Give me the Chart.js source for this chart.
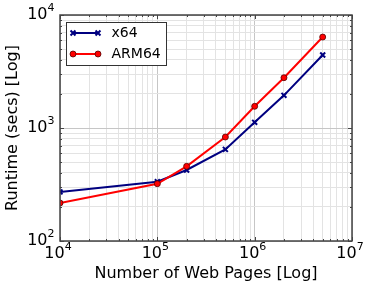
<!DOCTYPE html>
<html>
<head>
<meta charset="utf-8">
<script src="https://cdn.jsdelivr.net/npm/chart.js@4.4.1/dist/chart.umd.min.js"></script>
<style>
  html, body { margin: 0; padding: 0; background: #fff; }
  canvas { display: block; }
</style>
</head>
<body>
<canvas id="runtime-chart" width="374" height="288"></canvas>
<script>
// Data
const pages = [1e4, 1e5, 2e5, 5e5, 1e6, 2e6, 5e6];
const x64Runtime = [272, 335, 425, 647, 1122, 1945, 4426];
const arm64Runtime = [217, 321, 458, 832, 1556, 2786, 6380];
const seriesNames = ["x64", "ARM64"];
const xDecades = [4, 5, 6, 7];
const yDecades = [2, 3, 4];

const FONT = "'DejaVu Sans', sans-serif";
const FRAME = "#444";

// ticks at 1..9 x 10^e, like matplotlib minor ticks
function logTicks(decades) {
    const out = [];
    for (let i = 0; i < decades.length - 1; i++) {
        for (let d = 1; d < 10; d++) out.push(d * Math.pow(10, decades[i]));
    }
    out.push(Math.pow(10, decades[decades.length - 1]));
    return out;
}
const isDecade = (v) => Math.abs(Math.log10(v) - Math.round(Math.log10(v))) < 1e-9;

// draws "10" with a raised exponent
function drawPow(ctx, exp, left, midY) {
    ctx.font = "16px " + FONT;
    ctx.textBaseline = "middle";
    ctx.textAlign = "left";
    ctx.fillText("10", left, midY);
    const wb = ctx.measureText("10").width;
    ctx.font = "11px " + FONT;
    ctx.fillText(String(exp), left + wb, midY - 7);
}
function powWidth(ctx, exp) {
    ctx.font = "16px " + FONT;
    const wb = ctx.measureText("10").width;
    ctx.font = "11px " + FONT;
    return wb + ctx.measureText(String(exp)).width;
}

const framePlugin = {
    id: "frame",
    afterDraw(chart) {
        const { ctx, chartArea: a, scales: { x, y } } = chart;
        ctx.save();
        // inward tick marks on all four sides
        ctx.strokeStyle = FRAME;
        ctx.lineWidth = 1;
        x.ticks.forEach((t) => {
            const px = Math.round(x.getPixelForValue(t.value)) + 0.5;
            const len = isDecade(t.value) ? 4 : 2;
            ctx.beginPath();
            ctx.moveTo(px, a.bottom); ctx.lineTo(px, a.bottom - len);
            ctx.moveTo(px, a.top); ctx.lineTo(px, a.top + len);
            ctx.stroke();
        });
        y.ticks.forEach((t) => {
            const py = Math.round(y.getPixelForValue(t.value)) + 0.5;
            const len = isDecade(t.value) ? 4 : 2;
            ctx.beginPath();
            ctx.moveTo(a.left, py); ctx.lineTo(a.left + len, py);
            ctx.moveTo(a.right, py); ctx.lineTo(a.right - len, py);
            ctx.stroke();
        });
        ctx.lineWidth = 1.5;
        ctx.strokeRect(a.left, a.top, a.right - a.left, a.bottom - a.top);

        // tick labels
        ctx.fillStyle = "#000";
        xDecades.forEach((e) => {
            const px = x.getPixelForValue(Math.pow(10, e));
            const w = powWidth(ctx, e);
            drawPow(ctx, e, px - w / 2 - 2, a.bottom + 13);
        });
        yDecades.forEach((e) => {
            const py = y.getPixelForValue(Math.pow(10, e));
            const w = powWidth(ctx, e);
            drawPow(ctx, e, a.left - 5.5 - w, py);
        });

        // legend box in the upper left
        const bx = 66, by = 22, bw = 100, bh = 43;
        ctx.fillStyle = "#fff";
        ctx.fillRect(bx, by, bw, bh);
        ctx.strokeStyle = "#333";
        ctx.lineWidth = 1;
        ctx.strokeRect(bx + 0.5, by + 0.5, bw, bh);
        chart.data.datasets.forEach((ds, i) => {
            const ly = by + 11 + i * 21;
            const x0 = bx + 7, x1 = bx + 32;
            ctx.strokeStyle = ds.borderColor;
            ctx.lineWidth = 2;
            ctx.beginPath();
            ctx.moveTo(x0, ly); ctx.lineTo(x1, ly);
            ctx.stroke();
            [x0, x1].forEach((mx) => {
                ctx.fillStyle = ds.pointBackgroundColor;
                ctx.strokeStyle = ds.pointBorderColor;
                ctx.lineWidth = ds.pointBorderWidth;
                ctx.beginPath();
                if (ds.pointStyle === "circle") {
                    ctx.arc(mx, ly, ds.pointRadius, 0, Math.PI * 2);
                    ctx.fill(); ctx.stroke();
                } else {
                    const r = ds.pointRadius * Math.SQRT1_2;
                    ctx.moveTo(mx - r, ly - r); ctx.lineTo(mx + r, ly + r);
                    ctx.moveTo(mx - r, ly + r); ctx.lineTo(mx + r, ly - r);
                    ctx.stroke();
                }
            });
            ctx.fillStyle = "#000";
            ctx.font = "14px " + FONT;
            ctx.textAlign = "left";
            ctx.textBaseline = "middle";
            ctx.fillText(ds.label, bx + 45.5, ly);
        });
        ctx.restore();
    }
};

const gridColor = (c) => (c.tick && isDecade(c.tick.value) ? "#c6c6c6" : "#e3e3e3");

new Chart(document.getElementById("runtime-chart"), {
    type: "line",
    data: {
        datasets: [
            {
                label: seriesNames[0],
                data: pages.map((p, i) => ({ x: p, y: x64Runtime[i] })),
                borderColor: "#000080",
                borderWidth: 2,
                pointStyle: "crossRot",
                pointRadius: 3.5,
                pointBorderWidth: 2,
                pointBackgroundColor: "#000080",
                pointBorderColor: "#000080",
                order: 1
            },
            {
                label: seriesNames[1],
                data: pages.map((p, i) => ({ x: p, y: arm64Runtime[i] })),
                borderColor: "#ff0000",
                borderWidth: 2,
                pointStyle: "circle",
                pointRadius: 3,
                pointBorderWidth: 0.8,
                pointBackgroundColor: "#ff0000",
                pointBorderColor: "#550000",
                order: 0
            }
        ]
    },
    options: {
        responsive: false,
        animation: false,
        devicePixelRatio: 1,
        layout: { padding: { top: 15, right: 22, left: 0, bottom: 0 } },
        plugins: { legend: { display: false }, tooltip: { enabled: false } },
        elements: { line: { tension: 0 } },
        scales: {
            x: {
                type: "logarithmic",
                min: 1e4,
                max: 1e7,
                afterBuildTicks: (s) => { s.ticks = logTicks(xDecades).map((v) => ({ value: v })); },
                afterFit: (s) => { s.height = 47; },
                ticks: { display: false },
                grid: { color: gridColor, lineWidth: 1, drawTicks: false },
                border: { display: false },
                title: {
                    display: true,
                    text: "Number of Web Pages [Log]",
                    color: "#000",
                    font: { family: FONT, size: 16 },
                    padding: { top: 0, bottom: 5 }
                }
            },
            y: {
                type: "logarithmic",
                min: 100,
                max: 10000,
                afterBuildTicks: (s) => { s.ticks = logTicks(yDecades).map((v) => ({ value: v })); },
                afterFit: (s) => { s.width = 60; },
                ticks: { display: false },
                grid: { color: gridColor, lineWidth: 1, drawTicks: false },
                border: { display: false },
                title: {
                    display: true,
                    text: "Runtime (secs) [Log]",
                    color: "#000",
                    font: { family: FONT, size: 16 },
                    padding: { top: 3, bottom: 0 }
                }
            }
        }
    },
    plugins: [framePlugin]
});
</script>
</body>
</html>
